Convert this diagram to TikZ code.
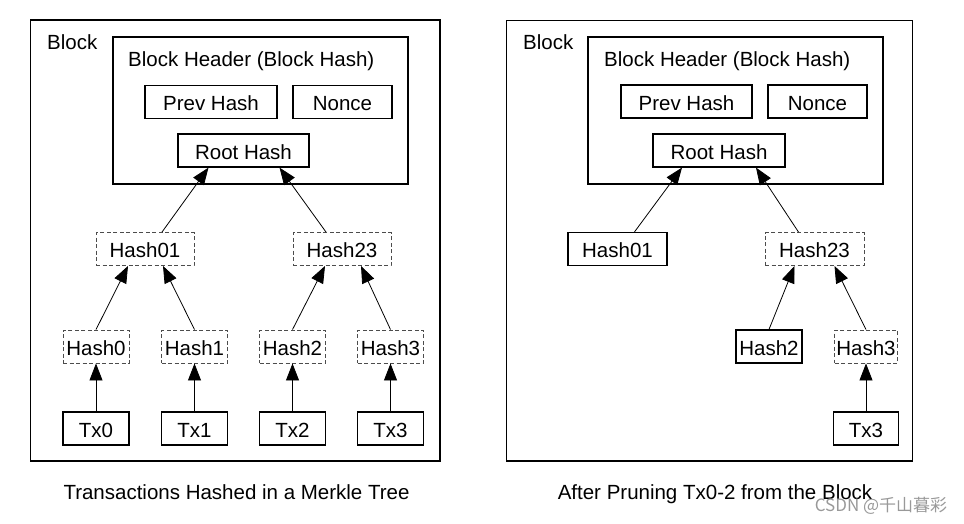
\documentclass[tikz,border=0pt]{standalone}
\usepackage{fontspec}
\setmainfont{Liberation Sans}
\newfontfamily\cjk{Noto Sans CJK SC}
\usepackage{tikz}
\usetikzlibrary{positioning,arrows.meta,calc}

\tikzset{
  txt/.style={font=\fontsize{20.5}{24}\selectfont,inner sep=0pt},
  frame/.style={draw,line width=1.2pt},
  sbox/.style={txt,draw,line width=1.2pt,minimum height=33pt,text height=17.3pt,text depth=0pt},
  dbox/.style={txt,draw=black!70,dash pattern=on 4pt off 2.5pt,line width=0.9pt,minimum height=33pt,text height=17.3pt,text depth=0pt},
  up/.style={draw=black,line width=0.8pt,-{Triangle[length=17pt,width=13pt]}},
}

\begin{document}
\begin{tikzpicture}[x=1pt,y=-1pt]
\useasboundingbox (0,0) rectangle (964,523);

% left: full merkle tree
\draw[frame] (30.5,20) rectangle (440,461);
\node[txt,anchor=base west] (blkL) at (47,49) {Block};
\draw[frame] (113,37) rectangle (408,184);
\node[txt,anchor=base west] (hdrL) at (128,66.5) {Block Header (Block Hash)};
\node[sbox,minimum width=132pt] (prevL) at (211,102) {Prev Hash};
\node[sbox,minimum width=99pt] (nonceL) at (342.5,102) {Nonce};
\node[sbox,minimum width=131pt] (rootL) at (243.5,150.5) {Root Hash};
\node[dbox,minimum width=98pt] (h01L) at (145,249) {Hash01};
\node[dbox,minimum width=98pt] (h23L) at (342,249) {Hash23};
\foreach \i/\x in {0/96,1/194.5,2/292.5,3/390.5}{
  \node[dbox,minimum width=66pt] (hL\i) at (\x,346.5) {Hash\i};
  \node[sbox,minimum width=66pt] (txL\i) at (\x,428.5) {Tx\i};
  \draw[up] (txL\i.north) -- (hL\i.south);
}
\draw[up] (hL0.north) -- ([xshift=-17pt]h01L.south);
\draw[up] (hL1.north) -- ([xshift=18pt]h01L.south);
\draw[up] (hL2.north) -- ([xshift=-17pt]h23L.south);
\draw[up] (hL3.north) -- ([xshift=19pt]h23L.south);
\draw[up] ([xshift=17pt]h01L.north) -- ([xshift=-35pt]rootL.south);
\draw[up] ([xshift=-16pt]h23L.north) -- ([xshift=36pt]rootL.south);
\node[txt,anchor=base] (capL) at (236.5,499) {Transactions Hashed in a Merkle Tree};

% right: after pruning
\draw[frame] (506.5,20.5) rectangle (912.5,461);
\node[txt,anchor=base west] (blkR) at (523,49) {Block};
\draw[frame] (588,37) rectangle (883,184);
\node[txt,anchor=base west] (hdrR) at (604,66) {Block Header (Block Hash)};
\node[sbox,minimum width=131pt] (prevR) at (686.5,101.5) {Prev Hash};
\node[sbox,minimum width=99pt] (nonceR) at (817.5,101.5) {Nonce};
\node[sbox,minimum width=132pt] (rootR) at (719,150.5) {Root Hash};
\node[sbox,minimum width=99pt] (h01R) at (617.5,249) {Hash01};
\node[dbox,minimum width=99pt] (h23R) at (814.5,249) {Hash23};
\node[sbox,minimum width=66pt] (hR2) at (769,346.5) {Hash2};
\node[dbox,minimum width=63pt] (hR3) at (866,346.5) {Hash3};
\node[sbox,minimum width=65pt] (txR3) at (866,428.5) {Tx3};
\draw[up] (txR3.north) -- (hR3.south);
\draw[up] (hR2.north) -- ([xshift=-20pt]h23R.south);
\draw[up] (hR3.north) -- ([xshift=20pt]h23R.south);
\draw[up] ([xshift=17pt]h01R.north) -- ([xshift=-37pt]rootR.south);
\draw[up] ([xshift=-16pt]h23R.north) -- ([xshift=37pt]rootR.south);
\node[txt,anchor=base] (capR) at (715,499) {After Pruning Tx0-2 from the Block};

\node[font=\cjk\fontsize{17}{20}\selectfont,text=black!40,inner sep=0pt] (wm) at (881,506) {CSDN @千山暮彩};
\end{tikzpicture}
\end{document}
